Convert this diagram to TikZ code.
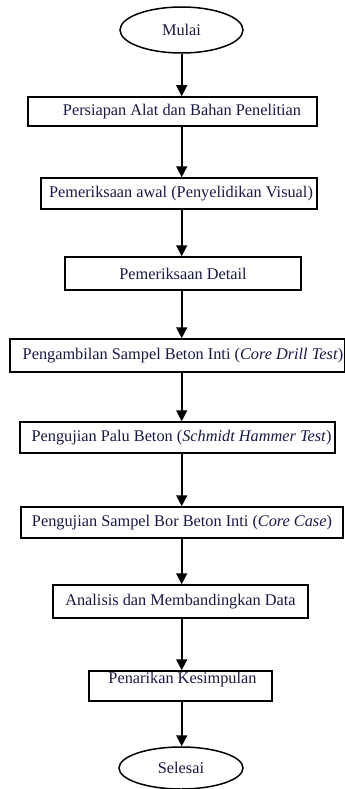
\documentclass[tikz,border=0pt]{standalone}
\usepackage{fontspec}
\setmainfont{Liberation Serif}
\usetikzlibrary{shapes.geometric,arrows.meta}
\definecolor{txt}{RGB}{25,25,70}
\begin{document}
\begin{tikzpicture}[x=1pt,y=-1pt,
  every node/.style={font=\fontsize{16.3}{18}\selectfont, text=txt, inner sep=0pt, line width=1.5pt},
  proc/.style={draw, rectangle},
  term/.style={draw, ellipse},
  arr/.style={-{Triangle[width=11pt,length=11pt]}, line width=1.6pt}]
\useasboundingbox (0,0) rectangle (345,789);
\coordinate (ax) at (181.7,0);
\node[term, minimum width=123pt, minimum height=46pt] (start) at (181.5,30) {Mulai};
\node[proc, minimum width=289pt, minimum height=29pt] (b1) at (172.5,111.5) {\hspace*{19pt}Persiapan Alat dan Bahan Penelitian};
\node[proc, minimum width=276pt, minimum height=31pt] (b2) at (179,193.5) {\hspace*{4pt}Pemeriksaan awal (Penyelidikan Visual)};
\node[proc, minimum width=236pt, minimum height=33pt] (b3) at (183,273.5) {Pemeriksaan Detail};
\node[proc, minimum width=335pt, minimum height=33pt] (b4) at (177.5,355.5) {\hspace*{11pt}Pengambilan Sampel Beton Inti (\textit{Core Drill Test})};
\node[proc, minimum width=315pt, minimum height=31pt] (b5) at (177.5,437.5) {\hspace*{8pt}Pengujian Palu Beton (\textit{Schmidt Hammer Test})};
\node[proc, minimum width=322pt, minimum height=31pt] (b6) at (182,522.5) {Pengujian Sampel Bor Beton Inti (\textit{Core Case})};
\node[proc, minimum width=255pt, minimum height=33pt] (b7) at (180.5,601.5) {Analisis dan Membandingkan Data};
\node[proc, minimum width=183pt, minimum height=30pt, text depth=17pt] (b8) at (180.5,686) {\hspace*{4pt}Penarikan Kesimpulan};
\node[term, minimum width=124pt, minimum height=42pt] (end) at (181,768) {Selesai};
\draw[arr] (start.south -| ax) -- (b1.north -| ax);
\draw[arr] (b1.south -| ax) -- (b2.north -| ax);
\draw[arr] (b2.south -| ax) -- (b3.north -| ax);
\draw[arr] (b3.south -| ax) -- (b4.north -| ax);
\draw[arr] (b4.south -| ax) -- (b5.north -| ax);
\draw[arr] (b5.south -| ax) -- (b6.north -| ax);
\draw[arr] (b6.south -| ax) -- (b7.north -| ax);
\draw[arr] (b7.south -| ax) -- (b8.north -| ax);
\draw[arr] (b8.south -| ax) -- (end.north -| ax);
\end{tikzpicture}
\end{document}
